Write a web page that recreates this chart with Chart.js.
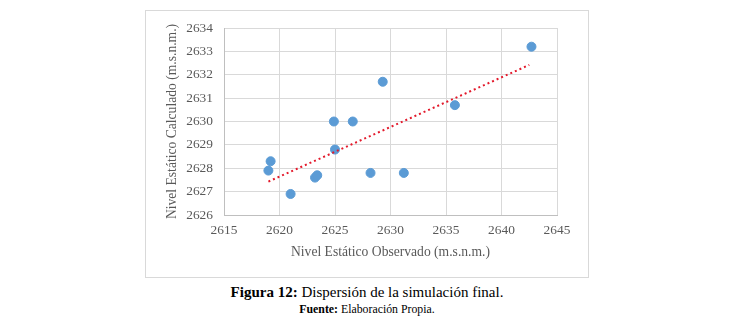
<!DOCTYPE html>
<html>
<head>
<meta charset="utf-8">
<script src="https://cdn.jsdelivr.net/npm/chart.js@4"></script>
<style>
  html, body { margin: 0; padding: 0; background: #fff; }
  body { width: 734px; height: 326px; position: relative; overflow: hidden; }
  #box { position: absolute; left: 145px; top: 10px; width: 442px; height: 266px; border: 1px solid #d9d9d9; }
  #box canvas { display: block; }
  .cap { position: absolute; left: 0; width: 734px; text-align: center; font-family: "Liberation Serif", "Times New Roman", "DejaVu Serif", serif; color: #000; white-space: nowrap; }
  #cap1 { top: 284px; font-size: 15px; }
  #cap2 { top: 302px; font-size: 11.8px; }
</style>
</head>
<body>
<div id="box"><canvas id="c" width="442" height="266"></canvas></div>
<div class="cap" id="cap1"><b>Figura 12:</b> Dispersión de la simulación final.</div>
<div class="cap" id="cap2"><b>Fuente:</b> Elaboración Propia.</div>
<script>
// Observed static level (x) and calculated static level (y), m.s.n.m.
const observed   = [2642.7, 2629.3, 2635.8, 2624.9, 2626.6, 2625.0, 2619.2, 2619.0, 2621.0, 2623.2, 2623.4, 2628.2, 2631.2];
const calculated = [2633.2, 2631.7, 2630.7, 2630.0, 2630.0, 2628.8, 2628.3, 2627.9, 2626.9, 2627.6, 2627.7, 2627.8, 2627.8];
// Linear trend line endpoints
const trendX = [2619.0, 2642.5];
const trendY = [2627.43, 2632.42];
const xTicks = [2615, 2620, 2625, 2630, 2635, 2640, 2645];
const yTicks = [2626, 2627, 2628, 2629, 2630, 2631, 2632, 2633, 2634];

const pts = observed.map((x, i) => ({ x: x, y: calculated[i] }));
const trend = trendX.map((x, i) => ({ x: x, y: trendY[i] }));

const serif = '"Liberation Serif", "DejaVu Serif", serif';
const gridColor = '#d9d9d9';
const textColor = '#595959';

new Chart(document.getElementById('c'), {
  type: 'scatter',
  data: {
    datasets: [
      {
        label: 'Trend',
        type: 'line',
        data: trend,
        borderColor: '#e3192b',
        borderWidth: 2,
        borderDash: [2, 3],
        pointRadius: 0,
        fill: false,
        order: 0
      },
      {
        label: 'Datos',
        data: pts,
        backgroundColor: '#5b9bd5',
        borderColor: '#5b9bd5',
        pointRadius: 4.5,
        pointHoverRadius: 4.5,
        order: 1
      }
    ]
  },
  options: {
    responsive: false,
    animation: false,
    events: [],
    layout: { padding: { top: 17, right: 31, left: 0, bottom: 0 } },
    plugins: { legend: { display: false }, tooltip: { enabled: false } },
    scales: {
      x: {
        type: 'linear',
        min: xTicks[0],
        max: xTicks[xTicks.length - 1],
        afterFit: s => { s.height = 62; },
        afterBuildTicks: s => { s.ticks = xTicks.map(v => ({ value: v })); },
        grid: { color: gridColor, drawTicks: false },
        border: { color: '#bfbfbf' },
        ticks: { color: textColor, font: { family: serif, size: 13.4 }, padding: 7, maxRotation: 0, callback: v => String(v) },
        title: { display: true, text: 'Nivel Estático Observado (m.s.n.m.)', color: textColor, font: { family: serif, size: 13.6 }, padding: { top: 0, bottom: 16 } }
      },
      y: {
        type: 'linear',
        min: yTicks[0],
        max: yTicks[yTicks.length - 1],
        afterFit: s => { s.width = 78; s.paddingTop = 0; s.paddingBottom = 0; },
        afterBuildTicks: s => { s.ticks = yTicks.map(v => ({ value: v })); },
        grid: { color: gridColor, drawTicks: false },
        border: { color: '#bfbfbf' },
        ticks: { color: textColor, font: { family: serif, size: 13.4 }, padding: 11, callback: v => String(v) },
        title: { display: true, text: 'Nivel Estático Calculado (m.s.n.m.)', color: textColor, font: { family: serif, size: 13.6 }, padding: { top: 18, bottom: 0 } }
      }
    }
  }
});
</script>
</body>
</html>
